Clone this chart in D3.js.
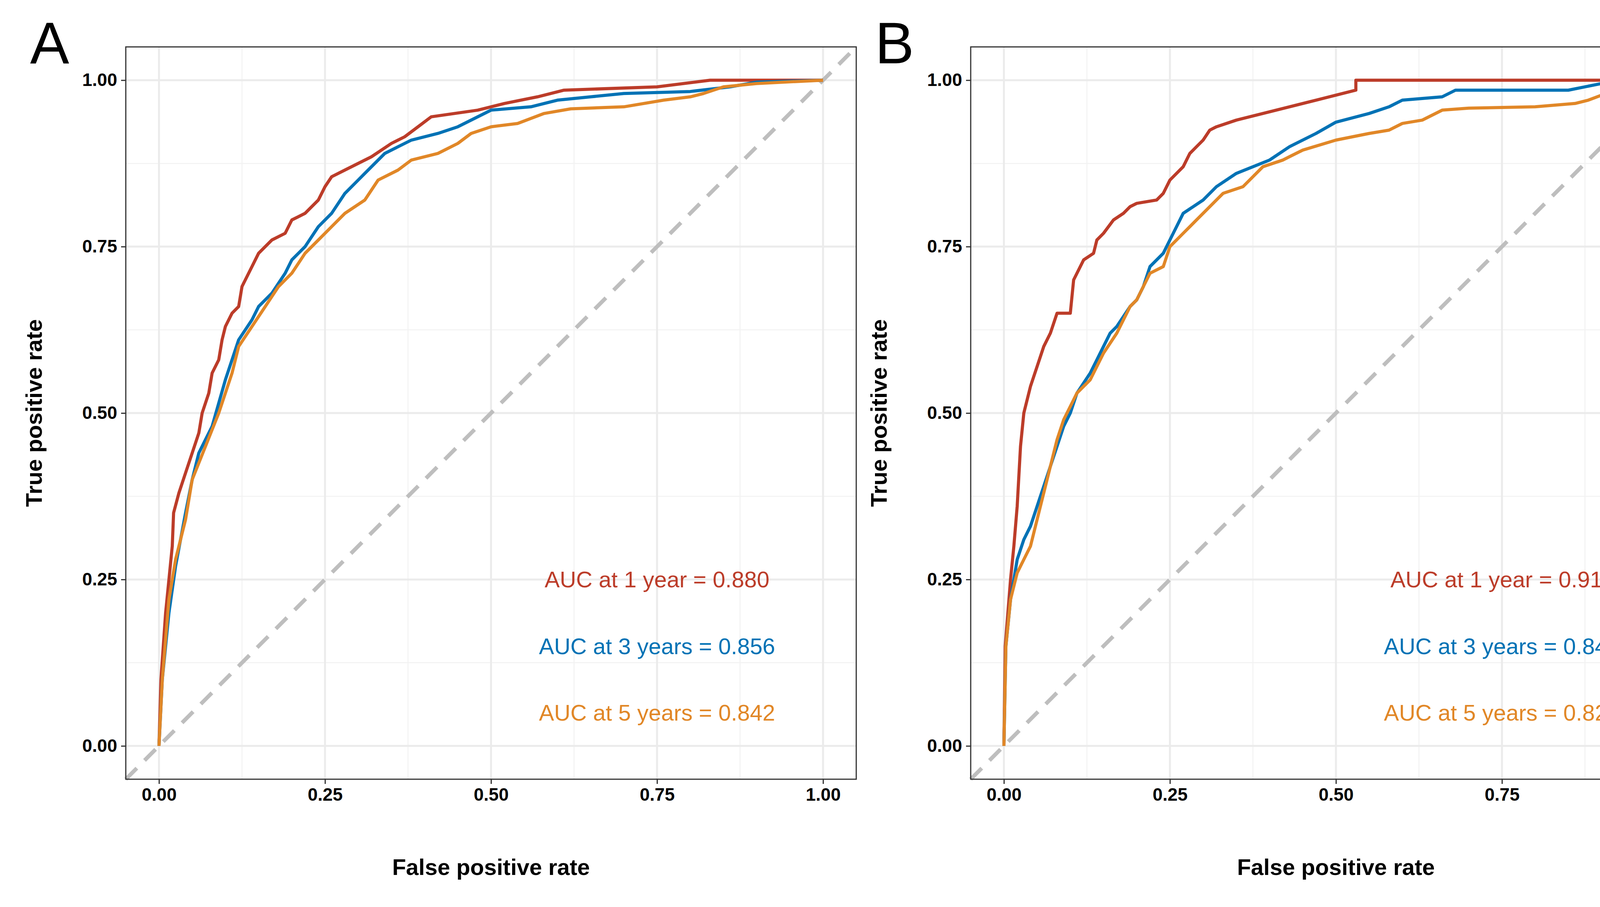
<!DOCTYPE html><html><head><meta charset="utf-8"><script src="https://cdn.jsdelivr.net/npm/d3@7"></script>
<style>body{margin:0;background:#fff}text{font-family:Arial,"Liberation Sans",sans-serif}</style></head><body><svg id="c" width="4542" height="2321"></svg><script>
const ticks=[0,0.25,0.5,0.75,1];
const tickLabels=["0.00","0.25","0.50","0.75","1.00"];
const seriesNames=["1 year","3 years","5 years"];
const colors=["#BC3C29","#0072B5","#E18727"];
const panelLetters=["A","B"];
const aucA=["0.880","0.856","0.842"];
const aucB=["0.911","0.843","0.829"];
const aRed=[[0,0],[0.003,0.1],[0.01,0.2],[0.02,0.3],[0.022,0.35],[0.03,0.38],[0.04,0.41],[0.05,0.44],[0.06,0.47],[0.065,0.5],[0.075,0.53],[0.08,0.56],[0.09,0.58],[0.095,0.61],[0.1,0.63],[0.11,0.65],[0.12,0.66],[0.125,0.69],[0.13,0.7],[0.14,0.72],[0.15,0.74],[0.16,0.75],[0.17,0.76],[0.19,0.77],[0.2,0.79],[0.22,0.8],[0.24,0.82],[0.25,0.84],[0.26,0.855],[0.28,0.865],[0.3,0.875],[0.32,0.885],[0.35,0.905],[0.37,0.915],[0.39,0.93],[0.41,0.945],[0.48,0.955],[0.52,0.965],[0.57,0.975],[0.61,0.985],[0.75,0.99],[0.83,1],[1,1]];
const aBlue=[[0,0],[0.005,0.1],[0.015,0.2],[0.025,0.27],[0.04,0.35],[0.05,0.4],[0.06,0.44],[0.08,0.48],[0.1,0.55],[0.12,0.61],[0.14,0.64],[0.15,0.66],[0.17,0.68],[0.19,0.71],[0.2,0.73],[0.22,0.75],[0.24,0.78],[0.26,0.8],[0.28,0.83],[0.3,0.85],[0.31,0.86],[0.34,0.89],[0.36,0.9],[0.38,0.91],[0.42,0.92],[0.45,0.93],[0.48,0.945],[0.5,0.955],[0.56,0.96],[0.6,0.97],[0.65,0.975],[0.7,0.98],[0.8,0.983],[0.86,0.99],[0.9,0.997],[1,1]];
const aOrange=[[0,0],[0.005,0.1],[0.015,0.22],[0.025,0.28],[0.04,0.34],[0.05,0.4],[0.07,0.45],[0.09,0.5],[0.11,0.56],[0.12,0.6],[0.14,0.63],[0.16,0.66],[0.18,0.69],[0.2,0.71],[0.22,0.74],[0.24,0.76],[0.26,0.78],[0.28,0.8],[0.31,0.82],[0.33,0.85],[0.36,0.865],[0.38,0.88],[0.42,0.89],[0.45,0.905],[0.47,0.92],[0.5,0.93],[0.54,0.935],[0.58,0.95],[0.62,0.957],[0.7,0.96],[0.76,0.97],[0.8,0.975],[0.82,0.98],[0.85,0.99],[0.9,0.995],[1,1]];
const bRed=[[0,0],[0.002,0.15],[0.01,0.25],[0.015,0.3],[0.02,0.36],[0.025,0.45],[0.03,0.5],[0.04,0.54],[0.05,0.57],[0.06,0.6],[0.07,0.62],[0.08,0.65],[0.1,0.65],[0.105,0.7],[0.11,0.71],[0.12,0.73],[0.135,0.74],[0.14,0.76],[0.15,0.77],[0.165,0.79],[0.18,0.8],[0.19,0.81],[0.2,0.815],[0.23,0.82],[0.24,0.83],[0.25,0.85],[0.27,0.87],[0.28,0.89],[0.29,0.9],[0.3,0.91],[0.31,0.925],[0.32,0.93],[0.35,0.94],[0.39,0.95],[0.43,0.96],[0.47,0.97],[0.53,0.985],[0.53,1],[1,1]];
const bBlue=[[0,0],[0.003,0.15],[0.01,0.22],[0.02,0.28],[0.03,0.31],[0.04,0.33],[0.05,0.36],[0.06,0.39],[0.07,0.42],[0.08,0.45],[0.09,0.48],[0.1,0.5],[0.11,0.53],[0.13,0.56],[0.14,0.58],[0.15,0.6],[0.16,0.62],[0.17,0.63],[0.19,0.66],[0.2,0.67],[0.21,0.69],[0.22,0.72],[0.24,0.74],[0.25,0.76],[0.26,0.78],[0.27,0.8],[0.3,0.82],[0.32,0.84],[0.35,0.86],[0.4,0.88],[0.43,0.9],[0.47,0.92],[0.5,0.937],[0.55,0.95],[0.58,0.96],[0.6,0.97],[0.66,0.975],[0.68,0.985],[0.85,0.985],[0.9,0.995],[1,1]];
const bOrange=[[0,0],[0.003,0.15],[0.01,0.22],[0.02,0.26],[0.03,0.28],[0.04,0.3],[0.05,0.34],[0.06,0.38],[0.07,0.42],[0.08,0.46],[0.09,0.49],[0.1,0.51],[0.11,0.53],[0.13,0.55],[0.15,0.59],[0.17,0.62],[0.19,0.66],[0.2,0.67],[0.21,0.69],[0.22,0.71],[0.24,0.72],[0.25,0.75],[0.27,0.77],[0.29,0.79],[0.31,0.81],[0.33,0.83],[0.36,0.84],[0.37,0.85],[0.39,0.87],[0.42,0.88],[0.45,0.895],[0.5,0.91],[0.55,0.92],[0.58,0.925],[0.6,0.935],[0.63,0.94],[0.66,0.955],[0.7,0.958],[0.8,0.96],[0.86,0.965],[0.88,0.97],[0.92,0.985],[1,1]];
const panels=[{left:322,curves:[aRed,aBlue,aOrange],auc:aucA},{left:2485,curves:[bRed,bBlue,bOrange],auc:aucB}];
const svg=d3.select("#c");
const W=1870,topY=120,H=1874;
panels.forEach((p,pi)=>{
  const g=svg.append("g").attr("transform",`translate(${p.left},${topY})`);
  const x=d3.scaleLinear().domain([-0.05,1.05]).range([0,W]);
  const y=d3.scaleLinear().domain([-0.05,1.05]).range([H,0]);
  const minor=[0.125,0.375,0.625,0.875];
  g.selectAll(".mx").data(minor).join("line").attr("x1",d=>x(d)).attr("x2",d=>x(d)).attr("y1",0).attr("y2",H).attr("stroke","#f2f2f2").attr("stroke-width",2.5);
  g.selectAll(".my").data(minor).join("line").attr("y1",d=>y(d)).attr("y2",d=>y(d)).attr("x1",0).attr("x2",W).attr("stroke","#f2f2f2").attr("stroke-width",2.5);
  g.selectAll(".gx").data(ticks).join("line").attr("x1",d=>x(d)).attr("x2",d=>x(d)).attr("y1",0).attr("y2",H).attr("stroke","#ebebeb").attr("stroke-width",5);
  g.selectAll(".gy").data(ticks).join("line").attr("y1",d=>y(d)).attr("y2",d=>y(d)).attr("x1",0).attr("x2",W).attr("stroke","#ebebeb").attr("stroke-width",5);
  g.append("line").attr("x1",x(-0.05)).attr("y1",y(-0.05)).attr("x2",x(1.05)).attr("y2",y(1.05)).attr("stroke","#BEBEBE").attr("stroke-width",10).attr("stroke-dasharray","40,28");
  const line=d3.line().x(d=>x(d[0])).y(d=>y(d[1]));
  p.curves.forEach((c,i)=>g.append("path").datum(c).attr("d",line).attr("fill","none").attr("stroke",colors[i]).attr("stroke-width",8).attr("stroke-linejoin","round"));
  const xa=g.append("g").attr("transform",`translate(0,${H})`).call(d3.axisBottom(x).tickValues(ticks).tickFormat((d,i)=>tickLabels[i]).tickSize(12).tickPadding(10));
  const ya=g.append("g").call(d3.axisLeft(y).tickValues(ticks).tickFormat((d,i)=>tickLabels[i]).tickSize(12).tickPadding(10));
  [xa,ya].forEach(a=>{a.select(".domain").remove();a.selectAll("line").attr("stroke","#333").attr("stroke-width",3);a.selectAll("text").attr("font-size",46).attr("font-weight","bold").attr("fill","#000").attr("font-family","Arial,'Liberation Sans',sans-serif");});
  g.append("rect").attr("width",W).attr("height",H).attr("fill","none").attr("stroke","#333").attr("stroke-width",3);
  const yp=[0.25,0.15,0.05];
  p.auc.forEach((v,i)=>g.append("text").attr("x",x(0.75)).attr("y",y(yp[i])).attr("dy","0.35em").attr("text-anchor","middle").attr("font-size",58).attr("fill",colors[i]).text(`AUC at ${seriesNames[i]} = ${v}`));
  g.append("text").attr("x",x(0.5)).attr("y",H+245).attr("text-anchor","middle").attr("font-size",58).attr("font-weight","bold").text("False positive rate");
  g.append("text").attr("transform",`translate(-215,${H/2}) rotate(-90)`).attr("text-anchor","middle").attr("font-size",58).attr("font-weight","bold").text("True positive rate");
  g.append("text").attr("x",-245).attr("y",42).attr("font-size",150).text(panelLetters[pi]);
});
</script></body></html>
